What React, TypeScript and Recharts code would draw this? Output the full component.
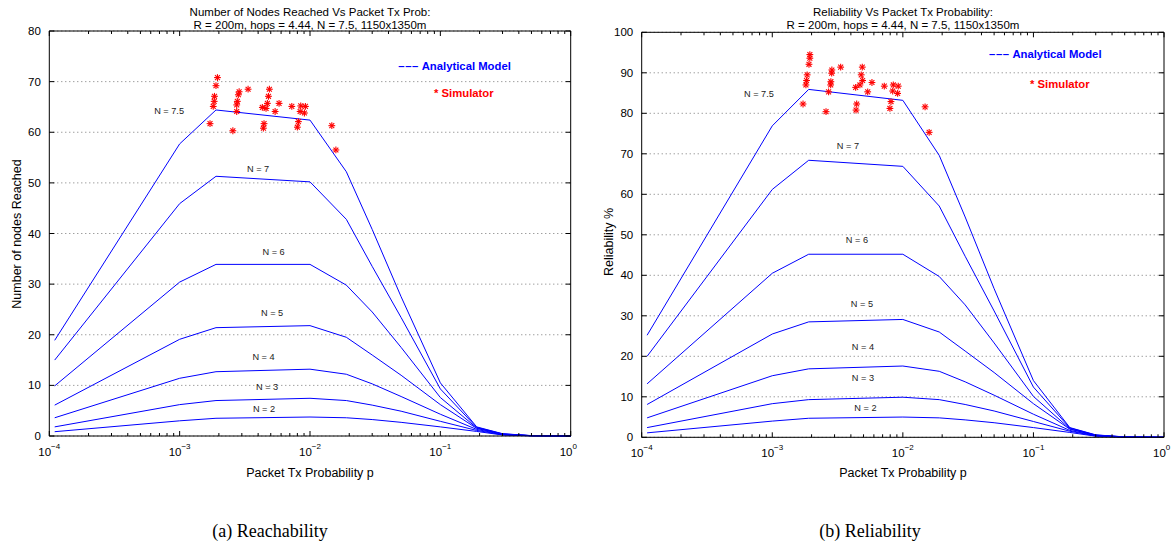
import React from 'react';
import { ComposedChart, Line, Scatter, XAxis, YAxis, CartesianGrid } from 'recharts';

const FONT = '"Liberation Sans", Arial, Helvetica, sans-serif';
const SERIF = '"Liberation Serif", "DejaVu Serif", serif';

// Packet Tx probability grid of the analytical model
const P = [1.1e-4, 1e-3, 1.9e-3, 1e-2, 1.9e-2, 3e-2, 5e-2, 0.1, 0.19, 0.3, 0.5, 1];

// (a) Number of nodes reached
const reachN75 = [18.9, 57.7, 64.4, 62.4, 52.2, 40.8, 27.5, 10.5, 1.8, 0.45, 0.08, 0];
const reachN7 = [15.0, 45.9, 51.3, 50.2, 42.8, 33.5, 23.4, 9.3, 1.7, 0.42, 0.07, 0];
const reachN6 = [9.9, 30.4, 33.9, 33.9, 29.8, 24.5, 17.5, 7.6, 1.6, 0.38, 0.06, 0];
const reachN5 = [6.1, 19.1, 21.4, 21.8, 19.5, 16.0, 12.0, 6.2, 1.5, 0.35, 0.06, 0];
const reachN4 = [3.6, 11.4, 12.7, 13.2, 12.2, 10.3, 7.8, 4.3, 1.3, 0.3, 0.05, 0];
const reachN3 = [1.8, 6.2, 7.0, 7.45, 7.0, 6.1, 4.9, 2.9, 1.1, 0.25, 0.04, 0];
const reachN2 = [0.85, 3.0, 3.5, 3.75, 3.6, 3.25, 2.7, 1.8, 0.9, 0.2, 0.03, 0];

// (b) Reliability %
const relN75 = [25.2, 76.9, 85.9, 83.2, 69.6, 54.4, 36.7, 14.0, 2.4, 0.6, 0.1, 0];
const relN7 = [20.0, 61.2, 68.4, 66.9, 57.1, 44.7, 31.2, 12.4, 2.3, 0.56, 0.09, 0];
const relN6 = [13.2, 40.5, 45.2, 45.2, 39.7, 32.7, 23.3, 10.1, 2.1, 0.5, 0.08, 0];
const relN5 = [8.1, 25.5, 28.5, 29.1, 26.0, 21.3, 16.0, 8.3, 2.0, 0.47, 0.08, 0];
const relN4 = [4.8, 15.2, 16.9, 17.6, 16.3, 13.7, 10.4, 5.7, 1.7, 0.4, 0.07, 0];
const relN3 = [2.4, 8.3, 9.3, 9.9, 9.3, 8.1, 6.5, 3.9, 1.5, 0.33, 0.05, 0];
const relN2 = [1.1, 4.0, 4.7, 5.0, 4.8, 4.3, 3.6, 2.4, 1.2, 0.27, 0.04, 0];

// Simulator points (p, value)
const simReachP = [1.95e-3, 1.9e-3, 1.85e-3, 1.84e-3, 1.81e-3, 1.71e-3, 2.86e-3, 2.82e-3, 2.77e-3, 2.74e-3, 2.74e-3, 3.35e-3, 2.56e-3, 4.88e-3, 4.8e-3, 4.71e-3, 4.31e-3, 4.6e-3, 5.4e-3, 5.79e-3, 4.44e-3, 4.39e-3, 7.25e-3, 8.49e-3, 9.22e-3, 8.4e-3, 9.06e-3, 8.15e-3, 8.0e-3, 1.47e-2, 1.58e-2];
const simReachV = [70.8, 69.2, 67.1, 66.1, 65.1, 61.7, 68.0, 67.4, 66.1, 65.4, 64.1, 68.5, 60.3, 68.5, 67.1, 65.7, 64.9, 64.7, 64.1, 65.7, 61.7, 60.8, 65.1, 65.2, 65.1, 64.1, 63.8, 62.1, 61.0, 61.3, 56.5];
const simRelP = [1.94e-3, 1.94e-3, 1.91e-3, 1.85e-3, 1.83e-3, 1.81e-3, 1.72e-3, 2.86e-3, 2.85e-3, 2.81e-3, 2.8e-3, 2.7e-3, 3.34e-3, 2.58e-3, 4.89e-3, 4.8e-3, 4.92e-3, 4.69e-3, 4.35e-3, 5.8e-3, 5.38e-3, 4.43e-3, 4.38e-3, 7.21e-3, 8.45e-3, 9.22e-3, 8.36e-3, 9.12e-3, 8.11e-3, 7.96e-3, 1.48e-2, 1.59e-2];
const simRelV = [94.5, 93.6, 92.1, 89.5, 88.1, 87.0, 82.3, 90.7, 89.9, 87.8, 87.0, 85.3, 91.4, 80.4, 91.4, 89.5, 88.1, 87.0, 86.4, 87.6, 85.3, 82.3, 80.8, 86.7, 87.0, 86.7, 85.5, 84.9, 82.9, 81.2, 81.6, 75.3];

// Curve annotations
const labelText = ['N = 7.5', 'N = 7', 'N = 6', 'N = 5', 'N = 4', 'N = 3', 'N = 2'];
const reachLabelP = [8.3e-4, 4.0e-3, 5.26e-3, 5.12e-3, 4.4e-3, 4.69e-3, 4.44e-3];
const reachLabelV = [64.1, 52.7, 36.3, 24.3, 15.6, 9.7, 5.3];
const relLabelP = [7.9e-4, 3.8e-3, 4.45e-3, 4.86e-3, 4.95e-3, 4.95e-3, 5.17e-3];
const relLabelV = [84.8, 71.9, 48.7, 32.9, 22.3, 14.6, 7.2];

// Axis ticks
const X_MIN = 1e-4;
const X_MAX = 1;
const X_MAJOR = [1e-4, 1e-3, 1e-2, 1e-1, 1];
const X_MINOR = [
  2e-4, 3e-4, 4e-4, 5e-4, 6e-4, 7e-4, 8e-4, 9e-4,
  2e-3, 3e-3, 4e-3, 5e-3, 6e-3, 7e-3, 8e-3, 9e-3,
  2e-2, 3e-2, 4e-2, 5e-2, 6e-2, 7e-2, 8e-2, 9e-2,
  0.2, 0.3, 0.4, 0.5, 0.6, 0.7, 0.8, 0.9,
];
const REACH_TICKS = [0, 10, 20, 30, 40, 50, 60, 70, 80];
const REL_TICKS = [0, 10, 20, 30, 40, 50, 60, 70, 80, 90, 100];

const SERIES_KEYS = ['n75', 'n7', 'n6', 'n5', 'n4', 'n3', 'n2'];

const buildRows = (cols: number[][]) =>
  P.map((p, i) => {
    const row: any = { p };
    SERIES_KEYS.forEach((k, j) => (row[k] = cols[j][i]));
    return row;
  });

const reachRows = buildRows([reachN75, reachN7, reachN6, reachN5, reachN4, reachN3, reachN2]);
const relRows = buildRows([relN75, relN7, relN6, relN5, relN4, relN3, relN2]);
const simReach = simReachP.map((p, i) => ({ p, v: simReachV[i] }));
const simRel = simRelP.map((p, i) => ({ p, v: simRelV[i] }));
const reachLabels = labelText.map((t, i) => ({ p: reachLabelP[i], v: reachLabelV[i], t }));
const relLabels = labelText.map((t, i) => ({ p: relLabelP[i], v: relLabelV[i], t }));

const Star = (props: any) => {
  const { cx, cy } = props;
  if (cx == null || cy == null) return <g />;
  const r = 3.4;
  const d = r * 0.72;
  return (
    <g stroke="#ff0000" strokeWidth={1.1}>
      <line x1={cx - r} y1={cy} x2={cx + r} y2={cy} />
      <line x1={cx} y1={cy - r} x2={cx} y2={cy + r} />
      <line x1={cx - d} y1={cy - d} x2={cx + d} y2={cy + d} />
      <line x1={cx - d} y1={cy + d} x2={cx + d} y2={cy - d} />
    </g>
  );
};

const LabelShape = (props: any) => {
  const { cx, cy, payload } = props;
  if (cx == null || cy == null) return <g />;
  return (
    <text x={cx} y={cy} textAnchor="middle" dominantBaseline="central" fontFamily={FONT} fontSize={9.2} fill="#222">
      {payload.t}
    </text>
  );
};

const PowTick = (props: any) => {
  const { x, y, payload } = props;
  const e = Math.round(Math.log10(payload.value));
  const sup = e < 0 ? '\u2212' + -e : String(e);
  return (
    <text x={x - 11} y={y + 20} fontFamily={FONT} fontSize={11.5} fill="#000">
      10
      <tspan dy={-7} fontSize={8}>
        {sup}
      </tspan>
    </text>
  );
};

// Axes box (top/right borders and inward tick marks) for a plot rectangle
const AxesBox = ({ L, R, T, B, yMax, yTicks }: { L: number; R: number; T: number; B: number; yMax: number; yTicks: number[] }) => {
  const lx = (p: number) => L + ((Math.log10(p) - Math.log10(X_MIN)) / (Math.log10(X_MAX) - Math.log10(X_MIN))) * (R - L);
  const ly = (v: number) => B - (v / yMax) * (B - T);
  return (
    <g stroke="#000" strokeWidth={1} fill="none">
      <polyline points={`${L},${T} ${R},${T} ${R},${B}`} />
      {X_MAJOR.map((p) => (
        <g key={'M' + p}>
          <line x1={lx(p)} y1={B} x2={lx(p)} y2={B - 5} />
          <line x1={lx(p)} y1={T} x2={lx(p)} y2={T + 5} />
        </g>
      ))}
      {X_MINOR.map((p) => (
        <g key={'m' + p}>
          <line x1={lx(p)} y1={B} x2={lx(p)} y2={B - 3} />
          <line x1={lx(p)} y1={T} x2={lx(p)} y2={T + 3} />
        </g>
      ))}
      {yTicks.map((v) => (
        <g key={'y' + v}>
          <line x1={L} y1={ly(v)} x2={L + 5} y2={ly(v)} />
          <line x1={R} y1={ly(v)} x2={R - 5} y2={ly(v)} />
        </g>
      ))}
    </g>
  );
};

type PanelProps = {
  left: number;
  width: number;
  height: number;
  margin: any;
  yWidth: number;
  yMax: number;
  yTicks: number[];
  rows: any[];
  sim: any[];
  labels: any[];
};

const Panel = ({ left, width, height, margin, yWidth, yMax, yTicks, rows, sim, labels }: PanelProps) => {
  return (
    <div style={{ position: 'absolute', left, top: 0, width, height }}>
      <ComposedChart width={width} height={height} data={rows} margin={margin}>
        <CartesianGrid xAxisId="x" yAxisId="y" vertical={false} stroke="#777" strokeDasharray="1 3" />
        <XAxis
          xAxisId="x"
          dataKey="p"
          type="number"
          scale="log"
          domain={[X_MIN, X_MAX]}
          interval={0}
          ticks={X_MAJOR}
          height={30}
          tickLine={false}
          tickSize={0}
          tickMargin={0}
          tick={PowTick}
          axisLine={{ stroke: '#000' }}
        />
        <YAxis
          yAxisId="y"
          type="number"
          domain={[0, yMax]}
          ticks={yTicks}
          interval={0}
          width={yWidth}
          tickLine={false}
          tickSize={6}
          tickMargin={2.5}
          axisLine={{ stroke: '#000' }}
          tick={{ fontFamily: FONT, fontSize: 11.5, fill: '#000' }}
        />
        {SERIES_KEYS.map((k) => (
          <Line
            key={k}
            xAxisId="x"
            yAxisId="y"
            type="linear"
            dataKey={k}
            stroke="#0000ff"
            strokeWidth={1}
            dot={false}
            isAnimationActive={false}
          />
        ))}
        <Scatter xAxisId="x" yAxisId="y" data={sim} dataKey="v" shape={Star} isAnimationActive={false} />
        <Scatter xAxisId="x" yAxisId="y" data={labels} dataKey="v" shape={LabelShape} isAnimationActive={false} />
      </ComposedChart>
    </div>
  );
};

export default function App() {
  return (
    <div style={{ position: 'absolute', left: 0, top: 0, width: 1172, height: 543, background: '#fff' }}>
      <Panel
        left={0}
        width={590}
        height={500}
        margin={{ top: 31, right: 19.3, bottom: 34, left: 0 }}
        yWidth={49.3}
        yMax={80}
        yTicks={REACH_TICKS}
        rows={reachRows}
        sim={simReach}
        labels={reachLabels}
      />
      <Panel
        left={590}
        width={582}
        height={500}
        margin={{ top: 32.3, right: 8, bottom: 32.7, left: 0 }}
        yWidth={51.7}
        yMax={100}
        yTicks={REL_TICKS}
        rows={relRows}
        sim={simRel}
        labels={relLabels}
      />
      <svg width={1172} height={543} style={{ position: 'absolute', left: 0, top: 0, pointerEvents: 'none' }}>
        <AxesBox L={49.3} R={570.7} T={31} B={436} yMax={80} yTicks={REACH_TICKS} />
        <AxesBox L={641.7} R={1164} T={32.3} B={437.3} yMax={100} yTicks={REL_TICKS} />
        <g fontFamily={FONT} fill="#000">
          <text x={310} y={15.5} textAnchor="middle" fontSize={11.5}>Number of Nodes Reached Vs Packet Tx Prob:</text>
          <text x={310} y={28.5} textAnchor="middle" fontSize={11.5}>R = 200m, hops = 4.44, N = 7.5, 1150x1350m</text>
          <text x={903} y={15.5} textAnchor="middle" fontSize={11.5}>Reliability Vs Packet Tx Probability:</text>
          <text x={903} y={28.5} textAnchor="middle" fontSize={11.5}>R = 200m, hops = 4.44, N = 7.5, 1150x1350m</text>
          <text x={310} y={477} textAnchor="middle" fontSize={12.5}>Packet Tx Probability p</text>
          <text x={903} y={477} textAnchor="middle" fontSize={12.5}>Packet Tx Probability p</text>
          <text x={20.5} y={234} textAnchor="middle" fontSize={12.5} transform="rotate(-90 20.5 234)">Number of nodes Reached</text>
          <text x={612.5} y={242} textAnchor="middle" fontSize={12.5} transform="rotate(-90 612.5 242)">Reliability %</text>
        </g>
        <g fontFamily={FONT} fontWeight="bold" fontSize={11.3}>
          <text x={398.3} y={70} fill="#0000ff" letterSpacing={0.6}>{'\u2013\u2013\u2013'}</text>
          <text x={421.7} y={70} fill="#0000ff">Analytical Model</text>
          <text x={434} y={96.5} fill="#ff0000">* Simulator</text>
          <text x={989} y={58.3} fill="#0000ff" letterSpacing={0.6}>{'\u2013\u2013\u2013'}</text>
          <text x={1012.4} y={58.3} fill="#0000ff">Analytical Model</text>
          <text x={1030} y={88} fill="#ff0000">* Simulator</text>
        </g>
        <g fontFamily={SERIF} fontSize={18} fill="#000">
          <text x={270} y={537} textAnchor="middle">(a) Reachability</text>
          <text x={870} y={537} textAnchor="middle">(b) Reliability</text>
        </g>
      </svg>
    </div>
  );
}
